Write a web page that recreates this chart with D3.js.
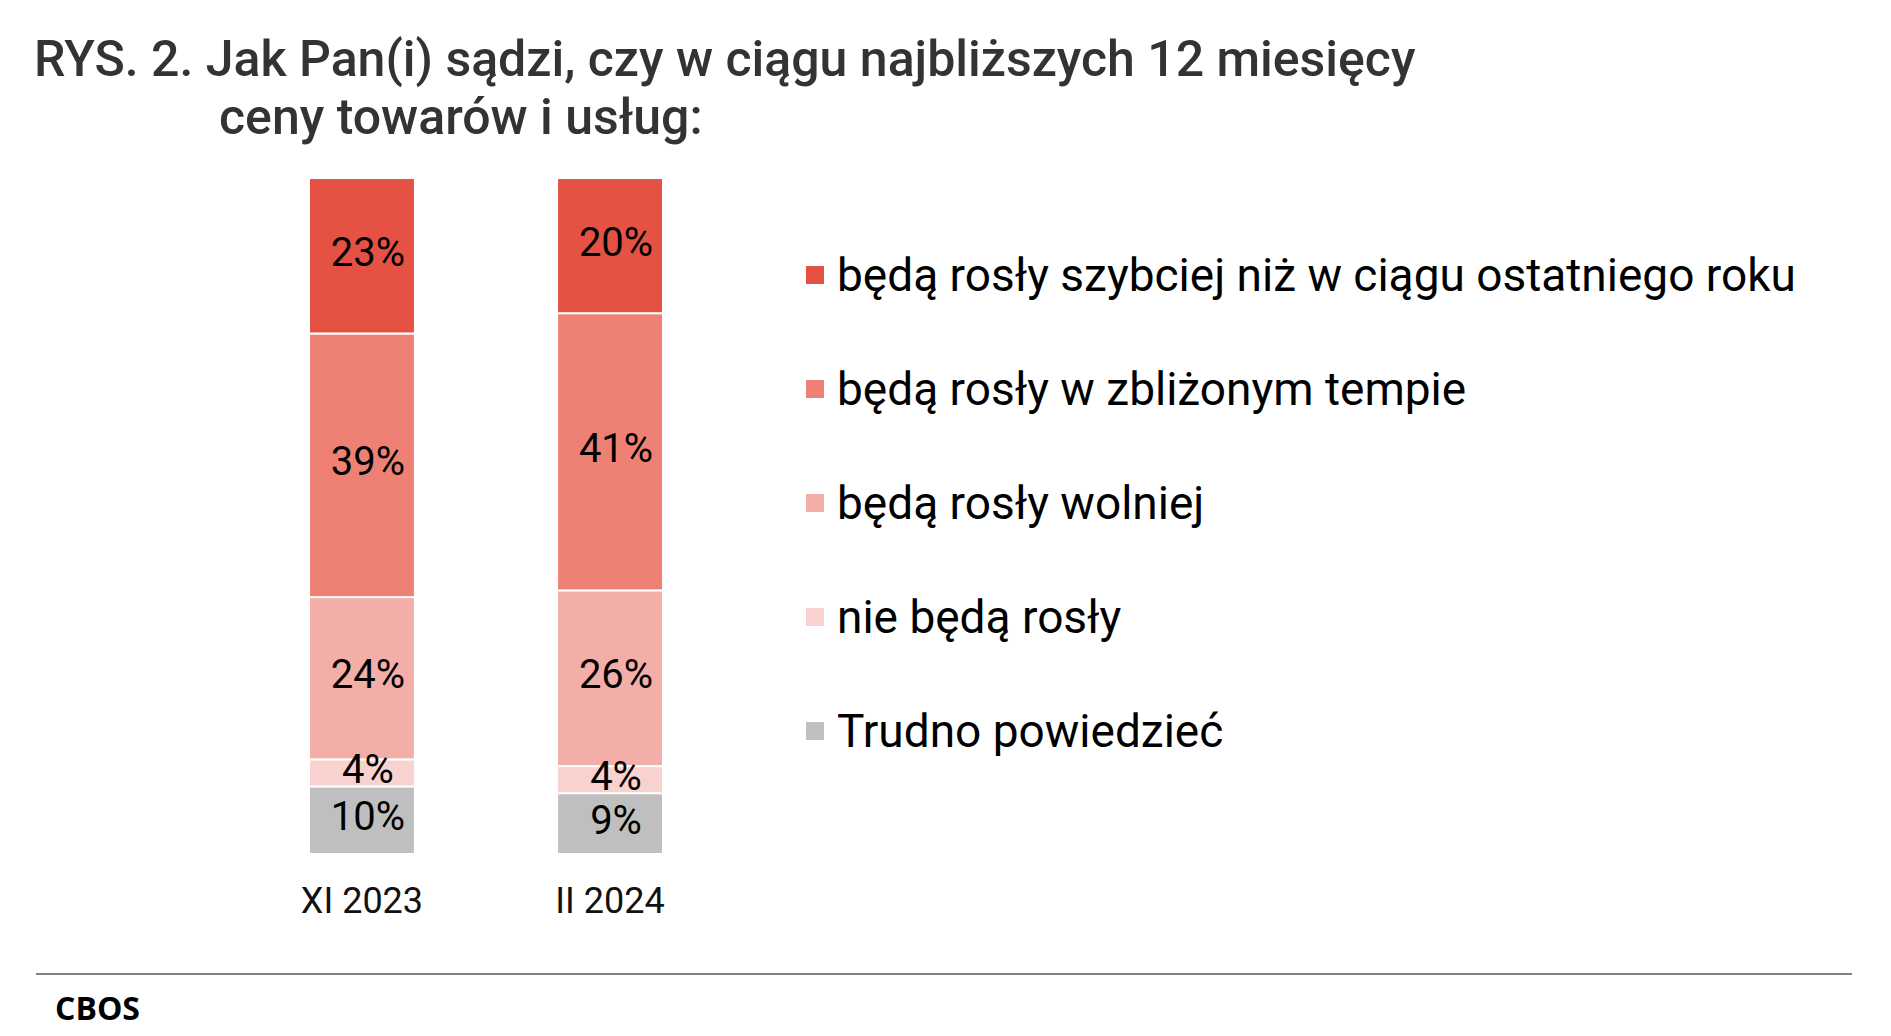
<!DOCTYPE html>
<html>
<head>
<meta charset="utf-8">
<script src="https://cdn.jsdelivr.net/npm/d3@7"></script>
<style>
  body { margin: 0; background: #fff; }
  svg { display: block; }
</style>
</head>
<body>
<div class="container"></div>
<script>
// data
var categories = ["XI 2023", "II 2024"];
var seriesNames = [
  "będą rosły szybciej niż w ciągu ostatniego roku",
  "będą rosły w zbliżonym tempie",
  "będą rosły wolniej",
  "nie będą rosły",
  "Trudno powiedzieć"
];
var szybciej = [23, 20];
var zblizonym = [39, 41];
var wolniej = [24, 26];
var nieRosly = [4, 4];
var trudno = [10, 9];
var seriesColors = ["#e55244", "#ee8074", "#f3aea8", "#f8d2ce", "#bfbfbf"];

var titleLines = [
  "RYS. 2. Jak Pan(i) sądzi, czy w ciągu najbliższych 12 miesięcy",
  "ceny towarów i usług:"
];
var source = "CBOS";

var w = 1891, h = 1036;

var svg = d3.select(".container")
  .append("svg")
  .attr("width", w)
  .attr("height", h);

// title
svg.selectAll(".title")
  .data(titleLines)
  .enter()
  .append("text")
  .attr("class", "title")
  .attr("x", function (d, i) { return i === 0 ? 34 : 219; })
  .attr("y", function (d, i) { return i === 0 ? 76 : 134; })
  .style("font-family", "Roboto")
  .style("font-weight", 500)
  .style("font-size", "50px")
  .style("fill", "#333")
  .text(function (d) { return d; });

// stacked table, bottom series first
var values = [szybciej, zblizonym, wolniej, nieRosly, trudno];
var table = categories.map(function (c, i) {
  var row = { cat: c };
  seriesNames.forEach(function (s, k) { row[s] = values[k][i]; });
  return row;
});
var stackKeys = seriesNames.slice().reverse();
var stacked = d3.stack().keys(stackKeys)(table);

var xScale = d3.scaleBand()
  .domain(categories)
  .range([309, 663])
  .paddingInner(0.573)
  .paddingOuter(0);

var yScale = d3.scaleLinear()
  .domain([0, 100])
  .range([854, 178]);

var color = d3.scaleOrdinal().domain(seriesNames).range(seriesColors);

var layers = svg.append("g")
  .selectAll("g")
  .data(stacked)
  .enter()
  .append("g")
  .style("fill", function (d) { return color(d.key); });

layers.selectAll("rect")
  .data(function (d) { return d; })
  .enter()
  .append("rect")
  .attr("x", function (d) { return xScale(d.data.cat); })
  .attr("y", function (d) { return yScale(d[1]); })
  .attr("width", xScale.bandwidth())
  .attr("height", function (d) { return yScale(d[0]) - yScale(d[1]); })
  .style("stroke", "#fff")
  .style("stroke-width", 2);

// value labels drawn on top of all segments
var segs = [];
stacked.forEach(function (layer) {
  layer.forEach(function (d) { segs.push(d); });
});

svg.append("g")
  .selectAll("text")
  .data(segs)
  .enter()
  .append("text")
  .attr("x", function (d) { return xScale(d.data.cat) + xScale.bandwidth() / 2 + 6; })
  .attr("y", function (d) { return (yScale(d[0]) + yScale(d[1])) / 2 + 10; })
  .attr("text-anchor", "middle")
  .style("font-family", "Roboto")
  .style("font-size", "40px")
  .style("fill", "#000")
  .text(function (d) { return (d[1] - d[0]) + "%"; });

// category axis, no line or ticks
var xAxis = d3.axisBottom(xScale).tickSize(0).tickPadding(0);
var xAxisGroup = svg.append("g")
  .attr("transform", "translate(0,913)")
  .call(xAxis);
xAxisGroup.select(".domain").remove();
xAxisGroup.selectAll("text")
  .attr("dy", 0)
  .attr("y", 0)
  .style("font-family", "Roboto")
  .style("font-size", "36px")
  .style("fill", "#111");

// legend
var legendY = d3.scalePoint()
  .domain(seriesNames)
  .range([291, 747]);

var legend = svg.append("g")
  .selectAll("g")
  .data(seriesNames)
  .enter()
  .append("g")
  .attr("transform", function (d) { return "translate(806," + legendY(d) + ")"; });

legend.append("rect")
  .attr("x", 0)
  .attr("y", -25)
  .attr("width", 18)
  .attr("height", 18)
  .style("fill", function (d) { return color(d); });

legend.append("text")
  .attr("x", 31)
  .attr("y", 0)
  .style("font-family", "Roboto")
  .style("font-size", "46px")
  .style("fill", "#000")
  .text(function (d) { return d; });

// footer
svg.append("line")
  .attr("x1", 36)
  .attr("x2", 1852)
  .attr("y1", 974)
  .attr("y2", 974)
  .style("stroke", "#808080")
  .style("stroke-width", 2);

svg.append("text")
  .attr("x", 55)
  .attr("y", 1020)
  .style("font-family", "'Open Sans'")
  .style("font-weight", 700)
  .style("font-size", "32px")
  .style("fill", "#000")
  .text(source);
</script>
</body>
</html>
